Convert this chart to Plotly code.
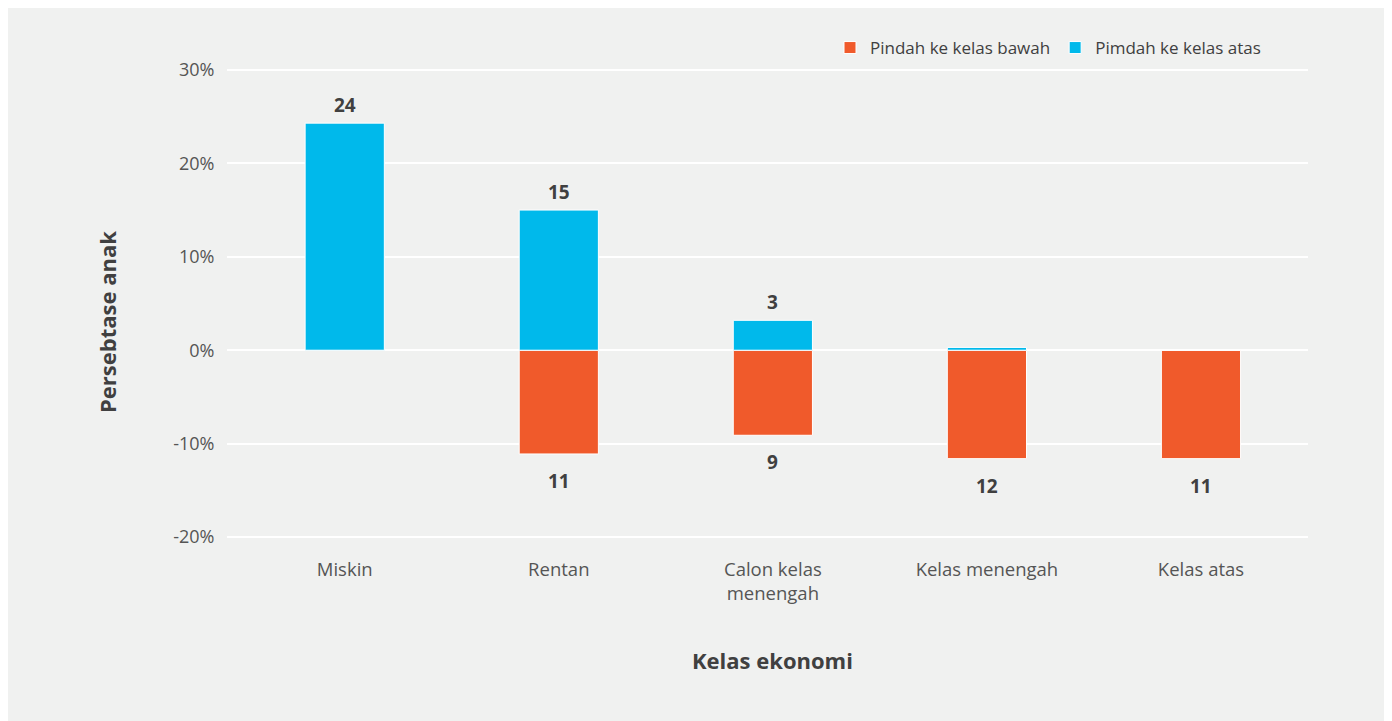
import plotly.graph_objects as go

categories = ["Miskin", "Rentan", "Calon kelas<br>menengah", "Kelas menengah", "Kelas atas"]
down_values = [0, -11.1, -9.1, -11.6, -11.6]
up_values = [24.3, 15.0, 3.2, 0.3, 0]
down_labels = ["", "11", "9", "12", "11"]
up_labels = ["24", "15", "3", "", ""]
y_ticks = [-20, -10, 0, 10, 20, 30]
y_tick_labels = ["-20%", "-10%", "0%", "10%", "20%", "30%"]
x_title = "Kelas ekonomi"
y_title = "Persebtase anak"

ORANGE = "#f05a2b"
BLUE = "#00b9eb"
BG = "#f0f1f0"
TXT = "#404040"
TICK = "#555555"
FONT = "Open Sans"

fig = go.Figure()
fig.add_trace(go.Bar(
    x=categories, y=down_values, name="Pindah ke kelas bawah",
    marker=dict(color=ORANGE, line=dict(color="white", width=1)), width=0.37,
))
fig.add_trace(go.Bar(
    x=categories, y=up_values, name="Pimdah ke kelas atas",
    marker=dict(color=BLUE, line=dict(color="white", width=1)), width=0.37,
))

W, H = 1384, 713
L, R, T, B = 219, 84, 60, 182
pw, ph = W - L - R, H - T - B


def px_x(p):
    return (p - L) / pw


def px_y(p):
    return (H - B - p) / ph


annotations = []
for c, v, t in zip(categories, up_values, up_labels):
    if t:
        annotations.append(dict(x=c, y=v, text=f"<b>{t}</b>", showarrow=False,
                                yanchor="middle", yshift=18,
                                font=dict(family=FONT, size=19, color=TXT)))
for c, v, t in zip(categories, down_values, down_labels):
    if t:
        annotations.append(dict(x=c, y=v, text=f"<b>{t}</b>", showarrow=False,
                                yanchor="middle", yshift=-27,
                                font=dict(family=FONT, size=19, color=TXT)))

# axis titles
annotations.append(dict(xref="paper", yref="paper", x=px_x(765), y=px_y(652),
                        xanchor="center", yanchor="middle", showarrow=False,
                        text=f"<b>{x_title}</b>",
                        font=dict(family=FONT, size=22, color=TXT)))
annotations.append(dict(xref="paper", yref="paper", x=px_x(99), y=px_y(314),
                        xanchor="center", yanchor="middle", showarrow=False,
                        textangle=-90, text=f"<b>{y_title}</b>",
                        font=dict(family=FONT, size=22, color=TXT)))

fig.update_layout(
    width=W, height=H,
    margin=dict(l=L, r=R, t=T, b=B, autoexpand=False),
    paper_bgcolor=BG,
    plot_bgcolor=BG,
    barmode="relative",
    font=dict(family=FONT, color=TXT),
    annotations=annotations,
    legend=dict(orientation="h", x=px_x(1258), xanchor="right", y=px_y(40), yanchor="middle",
                font=dict(family=FONT, size=17, color=TXT), traceorder="normal",
                bgcolor="rgba(0,0,0,0)", itemclick=False),
    xaxis=dict(
        range=[-0.55, 4.5], showgrid=False, zeroline=False, showline=False,
        ticks="outside", ticklen=14, tickcolor="rgba(0,0,0,0)",
        tickfont=dict(family=FONT, size=18.5, color=TICK),
        automargin=False,
    ),
    yaxis=dict(
        range=[-20.2, 30.2], tickvals=y_ticks, ticktext=y_tick_labels,
        showgrid=True, gridcolor="white", gridwidth=2,
        zeroline=True, zerolinecolor="white", zerolinewidth=2,
        showline=False,
        ticks="outside", ticklen=8, tickcolor="rgba(0,0,0,0)",
        tickfont=dict(family=FONT, size=18, color=TICK),
        automargin=False,
    ),
    showlegend=True,
)

fig.write_html("out.html")
